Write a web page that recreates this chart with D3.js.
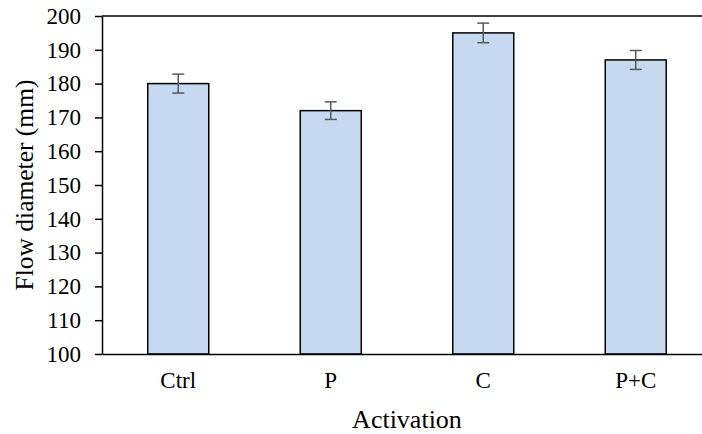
<!DOCTYPE html>
<html>
<head>
<meta charset="utf-8">
<script src="https://cdn.jsdelivr.net/npm/d3@7"></script>
<style>
  html, body { margin: 0; padding: 0; background: #fff; }
  svg { display: block; }
  text { font-family: "Liberation Serif", "Times New Roman", serif; fill: #000; }
</style>
</head>
<body>
<svg id="chart" width="702" height="434"></svg>
<script>
// Flow diameter by activation type
const categories = ["Ctrl", "P", "C", "P+C"];
const means = [180, 172, 195, 187];
const errors = [2.8, 2.6, 2.9, 2.8];
const yTicks = [100, 110, 120, 130, 140, 150, 160, 170, 180, 190, 200];

const svg = d3.select("#chart");
const margin = { left: 102, top: 16, right: -10, bottom: 80 };
const W = 702, H = 434;
const x0 = margin.left, x1 = W - margin.right;
const y0 = H - margin.bottom, y1 = margin.top;

const x = d3.scaleBand().domain(categories).range([x0, x1]).paddingInner(0.6).paddingOuter(0.3);
const y = d3.scaleLinear().domain([100, 200]).range([y0, y1]);

// top frame line
svg.append("line")
  .attr("x1", x0).attr("x2", x1).attr("y1", y(200)).attr("y2", y(200))
  .attr("stroke", "#000").attr("stroke-width", 1.5);

// bars
svg.append("g").selectAll("rect")
  .data(categories)
  .join("rect")
  .attr("x", d => x(d))
  .attr("width", x.bandwidth())
  .attr("y", (d, i) => y(means[i]))
  .attr("height", (d, i) => y(100) - y(means[i]))
  .attr("fill", "#c6d9f1")
  .attr("stroke", "#000")
  .attr("stroke-width", 1.5);

// error bars
const eb = svg.append("g").attr("stroke", "#595959").attr("stroke-width", 1.5);
categories.forEach((c, i) => {
  const cx = x(c) + x.bandwidth() / 2;
  const hi = y(means[i] + errors[i]), lo = y(means[i] - errors[i]);
  eb.append("line").attr("x1", cx).attr("x2", cx).attr("y1", hi).attr("y2", lo);
  eb.append("line").attr("x1", cx - 6).attr("x2", cx + 6).attr("y1", hi).attr("y2", hi);
  eb.append("line").attr("x1", cx - 6).attr("x2", cx + 6).attr("y1", lo).attr("y2", lo);
});

// y axis
const yAxis = svg.append("g")
  .attr("transform", `translate(${x0},0)`)
  .call(d3.axisLeft(y).tickValues(yTicks).tickSize(7).tickPadding(14).tickSizeOuter(0));
yAxis.select(".domain").attr("stroke", "#000").attr("stroke-width", 1.5);
yAxis.selectAll(".tick line").attr("stroke", "#000").attr("stroke-width", 1.5);
yAxis.selectAll(".tick text")
  .attr("font-family", "Liberation Serif, Times New Roman, serif")
  .attr("font-size", 23).attr("fill", "#000");

// x axis
const xAxis = svg.append("g")
  .attr("transform", `translate(0,${y0})`)
  .call(d3.axisBottom(x).tickSize(0).tickPadding(18).tickSizeOuter(0));
xAxis.select(".domain").attr("stroke", "#000").attr("stroke-width", 1.5);
xAxis.selectAll(".tick text")
  .attr("font-family", "Liberation Serif, Times New Roman, serif")
  .attr("font-size", 23).attr("fill", "#000");

// axis titles
svg.append("text")
  .attr("x", (x0 + x1) / 2).attr("y", 428)
  .attr("text-anchor", "middle").attr("font-size", 26)
  .text("Activation");

svg.append("text")
  .attr("transform", `translate(33,${(y0 + y1) / 2}) rotate(-90)`)
  .attr("text-anchor", "middle").attr("font-size", 25.5)
  .text("Flow diameter (mm)");
</script>
</body>
</html>
